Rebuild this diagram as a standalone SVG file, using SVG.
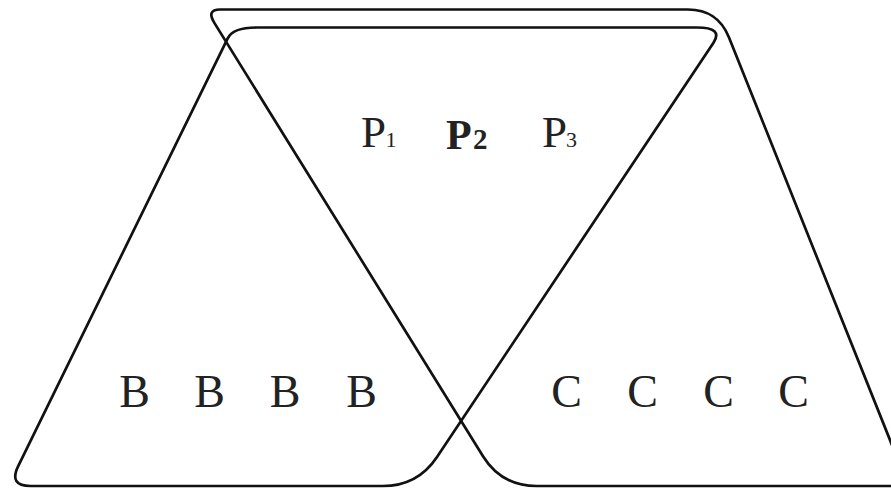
<svg xmlns="http://www.w3.org/2000/svg" width="891" height="488" viewBox="0 0 891 488">
<style>
.shape{fill:none;stroke:#111;stroke-width:2.7;stroke-linejoin:round}
.lbl{font-family:"Liberation Serif","Times New Roman",serif;fill:#222;font-size:45px}
.big{font-size:46px;text-anchor:middle}
.sub{font-size:22px}
.bold{font-weight:bold}
</style>
<rect width="891" height="488" fill="#fff"/>
<g id="connectors">
<path id="shapeB" class="shape" d="M257,27.5 L697,27.5 Q723.5,27.5 713.5,42.8 L437,456.9 Q417.6,486 382.6,486 L30.5,486 Q8.5,486 18.2,466.2 L227.7,38.3 Q233,27.5 257,27.5 Z"/>
<path id="shapeC" class="shape" d="M220,9.5 L687.8,9.5 Q717.8,9.5 729,37.4 L908.4,486 L536.5,486 Q501.5,486 483,456.2 L214.5,23.1 Q206.1,9.5 220,9.5 Z"/>
</g>
<g id="top-labels">
<g id="P1"><text class="lbl" x="361" y="147">P</text><text class="lbl sub" x="385.5" y="147">1</text></g>
<g id="P2"><text class="lbl bold" x="446" y="149" style="font-size:42px">P</text><text class="lbl bold" x="473" y="149" style="font-size:29px">2</text></g>
<g id="P3"><text class="lbl" x="542" y="147">P</text><text class="lbl sub" x="566" y="147">3</text></g>
</g>
<g id="B-labels">
<text class="lbl big" x="134.5" y="407">B</text>
<text class="lbl big" x="209.5" y="407">B</text>
<text class="lbl big" x="285" y="407">B</text>
<text class="lbl big" x="361.5" y="407">B</text>
</g>
<g id="C-labels">
<text class="lbl big" x="566.5" y="407">C</text>
<text class="lbl big" x="642.5" y="407">C</text>
<text class="lbl big" x="718.5" y="407">C</text>
<text class="lbl big" x="793.5" y="407">C</text>
</g>
</svg>
